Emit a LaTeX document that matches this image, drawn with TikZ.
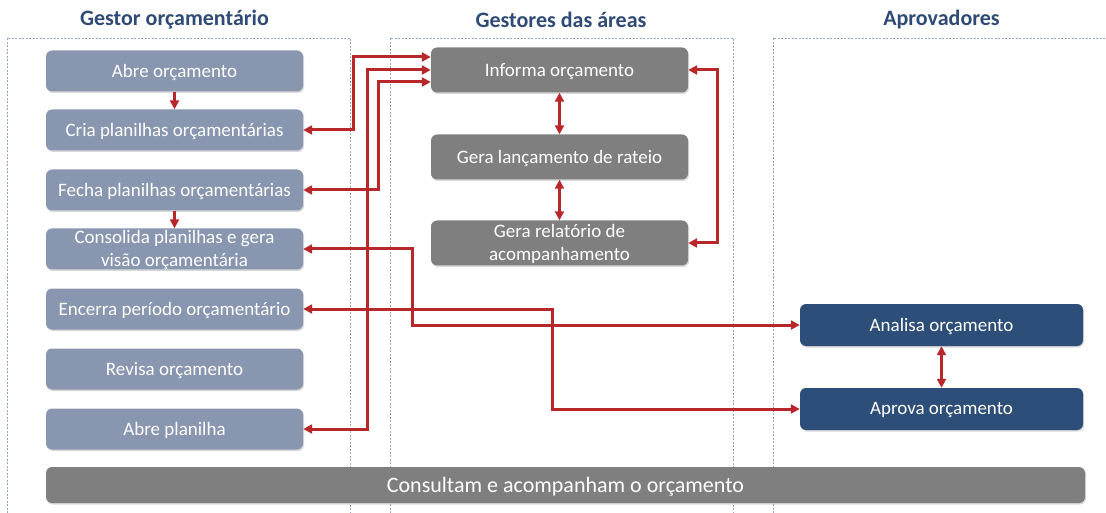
\documentclass[tikz,border=0pt]{standalone}
\usepackage{fontspec}
\setmainfont{Carlito}
\usetikzlibrary{arrows.meta,shadows}
\definecolor{lanecol}{HTML}{8FA6C4}
\definecolor{headcol}{HTML}{2E4A75}
\definecolor{gestorcol}{HTML}{8896AF}
\definecolor{areacol}{HTML}{7F7F7F}
\definecolor{aprovcol}{HTML}{2D4E78}
\definecolor{flowcol}{HTML}{B8282A}
\begin{document}
\begin{tikzpicture}[x=1pt,y=-1pt,
    lane/.style={draw=lanecol, line width=0.8pt, dash pattern=on 2pt off 1.5pt},
    head/.style={text=headcol, font=\fontsize{22}{25}\selectfont\bfseries},
    box/.style={rounded corners=6pt, text=white, align=center, inner sep=1pt,
      font=\fontsize{19}{22.5}\selectfont, text depth=1pt,
      drop shadow={shadow xshift=1pt, shadow yshift=-1.5pt, opacity=.3}},
    gbox/.style={box, fill=gestorcol, minimum width=257pt, minimum height=41pt},
    abox/.style={box, fill=areacol, minimum width=257pt, minimum height=45pt},
    pbox/.style={box, fill=aprovcol, minimum width=283pt, minimum height=42pt},
    flow/.style={draw=flowcol, line width=3pt, arrows={-Triangle[length=9pt,width=9pt]}},
    both/.style={flow, arrows={Triangle[length=9pt,width=9pt]-Triangle[length=9pt,width=9pt]}}]
   \useasboundingbox (0,0) rectangle (1106,513);
   \draw [lane] (7,513)--(7,38)--(350,38)--(350,513);
   \draw [lane] (390,513)--(390,38)--(733,38)--(733,513);
   \draw [lane] (773,513)--(773,38)--(1106,38);
   \node [head] (h1) at (174.5,20) {Gestor orçamentário};
   \node [head] (h2) at (561,20) {Gestores das áreas};
   \node [head] (h3) at (941.5,20) {Aprovadores};
   \node [gbox] (abre) at (174.5,71) {Abre orçamento};
   \node [gbox] (cria) at (174.5,130) {Cria planilhas orçamentárias};
   \node [gbox] (fecha) at (174.5,190) {Fecha planilhas orçamentárias};
   \node [gbox] (consolida) at (174.5,249) {Consolida planilhas e gera\\visão orçamentária};
   \node [gbox] (encerra) at (174.5,309) {Encerra período orçamentário};
   \node [gbox] (revisa) at (174.5,369) {Revisa orçamento};
   \node [gbox] (abrepl) at (174.5,429) {Abre planilha};
   \node [abox] (informa) at (559.5,70) {Informa orçamento};
   \node [abox] (rateio) at (559.5,157) {Gera lançamento de rateio};
   \node [abox] (relatorio) at (559.5,243) {Gera relatório de\\acompanhamento};
   \node [pbox] (analisa) at (941.5,325) {Analisa orçamento};
   \node [pbox] (aprova) at (941.5,409) {Aprova orçamento};
   \node [box, fill=areacol, minimum width=1039pt, minimum height=36pt,
     font=\fontsize{22}{25}\selectfont] (consulta) at (565.5,485) {Consultam e acompanham o orçamento};
   \draw [flow] (abre) -- (cria);
   \draw [flow] (fecha) -- (consolida);
   \draw [both] (informa) -- (rateio);
   \draw [both] (rateio) -- (relatorio);
   \draw [both] (informa.east) -- ++(29,0) |- (relatorio.east);
   \draw [both] (cria.east) -| (353,57) -- (informa.west |- 0,57);
   \draw [both] (abrepl.east) -| (367,70) -- (informa.west);
   \draw [both] (fecha.east) -| (378,82) -- (informa.west |- 0,82);
   \draw [both] (consolida.east) -| (412,325) -- (analisa.west);
   \draw [both] (encerra.east) -| (552,409) -- (aprova.west);
   \draw [both] (analisa) -- (aprova);
\end{tikzpicture}
\end{document}
